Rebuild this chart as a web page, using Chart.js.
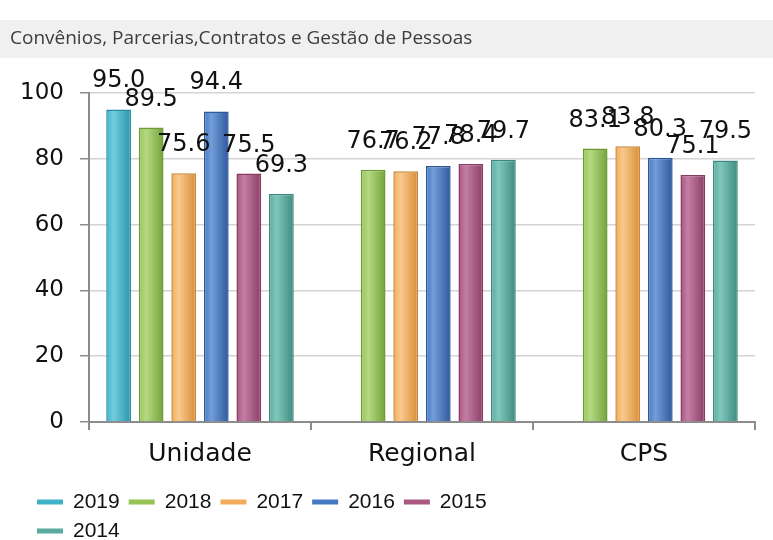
<!DOCTYPE html>
<html>
<head>
<meta charset="utf-8">
<script src="https://cdn.jsdelivr.net/npm/chart.js@4.4.0/dist/chart.umd.min.js"></script>
<style>
    html, body { margin: 0; padding: 0; background: #fff; }
    #chart { display: block; }
</style>
</head>
<body>
<canvas id="chart" width="773" height="540"></canvas>
<script>
const chartTitle = 'Convênios, Parcerias,Contratos e Gestão de Pessoas';
const categories = ['Unidade', 'Regional', 'CPS'];
const years = ['2019', '2018', '2017', '2016', '2015', '2014'];
const values2019 = [95.0, null, null];
const values2018 = [89.5, 76.7, 83.1];
const values2017 = [75.6, 76.2, 83.8];
const values2016 = [94.4, 77.8, 80.3];
const values2015 = [75.5, 78.4, 75.1];
const values2014 = [69.3, 79.7, 79.5];
const yTicks = [0, 20, 40, 60, 80, 100];

const seriesValues = [values2019, values2018, values2017, values2016, values2015, values2014];

// light / base / dark shades for the bar gradient
const palette = [
    { light: '#74cddd', base: '#40b3c8', dark: '#2895aa', border: '#2a8ca0' },
    { light: '#b5d882', base: '#95c356', dark: '#74a33a', border: '#6c9a34' },
    { light: '#f9c98c', base: '#f3ad5a', dark: '#d88e38', border: '#cc863a' },
    { light: '#729dd8', base: '#4679c1', dark: '#2e5a9e', border: '#2c5897' },
    { light: '#c47fa3', base: '#aa5781', dark: '#8a3c64', border: '#853a60' },
    { light: '#80c7bb', base: '#58ab9e', dark: '#3d8b7f', border: '#3c877b' }
];

function barFill(i) {
    return function(context) {
        let c = palette[i];
        let el = context.element;
        if (!el || !isFinite(el.x) || !el.width) return c.base;
        let g = context.chart.ctx.createLinearGradient(el.x - el.width / 2, 0, el.x + el.width / 2, 0);
        g.addColorStop(0, c.base);
        g.addColorStop(0.3, c.light);
        g.addColorStop(1, c.dark);
        return g;
    };
}

// grey title band at the top
const titleBand = {
    id: 'titleBand',
    beforeDraw(chart) {
        let ctx = chart.ctx;
        ctx.save();
        ctx.fillStyle = '#ffffff';
        ctx.fillRect(0, 0, chart.width, chart.height);
        ctx.fillStyle = '#f0f0f0';
        ctx.fillRect(0, 20, chart.width, 38);
        ctx.fillStyle = '#3c3c3c';
        ctx.font = '19px "Open Sans", "Noto Sans", sans-serif';
        ctx.textBaseline = 'middle';
        ctx.fillText(chartTitle, 10, 39);
        ctx.restore();
    }
};

// value above every bar
const barValues = {
    id: 'barValues',
    afterDatasetsDraw(chart) {
        let ctx = chart.ctx;
        ctx.save();
        ctx.font = '24px "DejaVu Sans", sans-serif';
        ctx.fillStyle = '#111';
        ctx.textAlign = 'center';
        ctx.textBaseline = 'alphabetic';
        chart.data.datasets.forEach(function(ds, i) {
            chart.getDatasetMeta(i).data.forEach(function(bar, j) {
                let v = ds.data[j];
                if (v === null || v === undefined) return;
                ctx.fillText(v.toFixed(1), bar.x, bar.y - 22);
            });
        });
        ctx.restore();
    }
};

// legend with line markers, wraps after five items
const yearLegend = {
    id: 'yearLegend',
    afterDraw(chart) {
        let ctx = chart.ctx;
        ctx.save();
        ctx.font = '21px "Liberation Sans", Arial, sans-serif';
        ctx.textBaseline = 'middle';
        let x = 37, y = 502;
        chart.data.datasets.forEach(function(ds, i) {
            let w = 36 + ctx.measureText(ds.label).width;
            if (x + w > 560) { x = 37; y += 29; }
            ctx.fillStyle = palette[i].base;
            ctx.fillRect(x, y - 2.5, 26, 5);
            ctx.fillStyle = '#111';
            ctx.fillText(ds.label, x + 36, y);
            x += w + 9;
        });
        ctx.restore();
    }
};

let ctx = document.getElementById('chart').getContext('2d');
let chart = new Chart(ctx, {
    type: 'bar',
    data: {
        labels: categories,
        datasets: years.map(function(y, i) {
            return {
                label: y,
                data: seriesValues[i],
                backgroundColor: barFill(i),
                borderColor: palette[i].border,
                borderWidth: 1.5,
                categoryPercentage: 0.88,
                barPercentage: 0.76
            };
        })
    },
    options: {
        responsive: false,
        animation: false,
        layout: { padding: { top: 93, right: 18, bottom: 66, left: 0 } },
        plugins: {
            legend: { display: false },
            title: { display: false },
            tooltip: { enabled: false }
        },
        scales: {
            x: {
                afterFit: function(s) { s.height = 52; },
                grid: { offset: true, drawOnChartArea: false, drawTicks: true, tickLength: 8, tickColor: '#8c8c8c', lineWidth: 2 },
                border: { display: true, color: '#8c8c8c', width: 2 },
                ticks: { padding: 9, color: '#111', font: { family: '"DejaVu Sans", sans-serif', size: 25 } }
            },
            y: {
                min: 0,
                max: 100,
                afterFit: function(s) { s.width = 89; },
                afterBuildTicks: function(s) { s.ticks = yTicks.map(function(v) { return { value: v }; }); },
                grid: { color: '#d4d4d4', lineWidth: 1.5, tickLength: 9, tickColor: '#8c8c8c' },
                border: { display: true, color: '#8c8c8c', width: 2 },
                ticks: { padding: 16, color: '#111', font: { family: '"DejaVu Sans", sans-serif', size: 23 } }
            }
        }
    },
    plugins: [titleBand, barValues, yearLegend]
});
chart.update('none');
</script>
</body>
</html>
